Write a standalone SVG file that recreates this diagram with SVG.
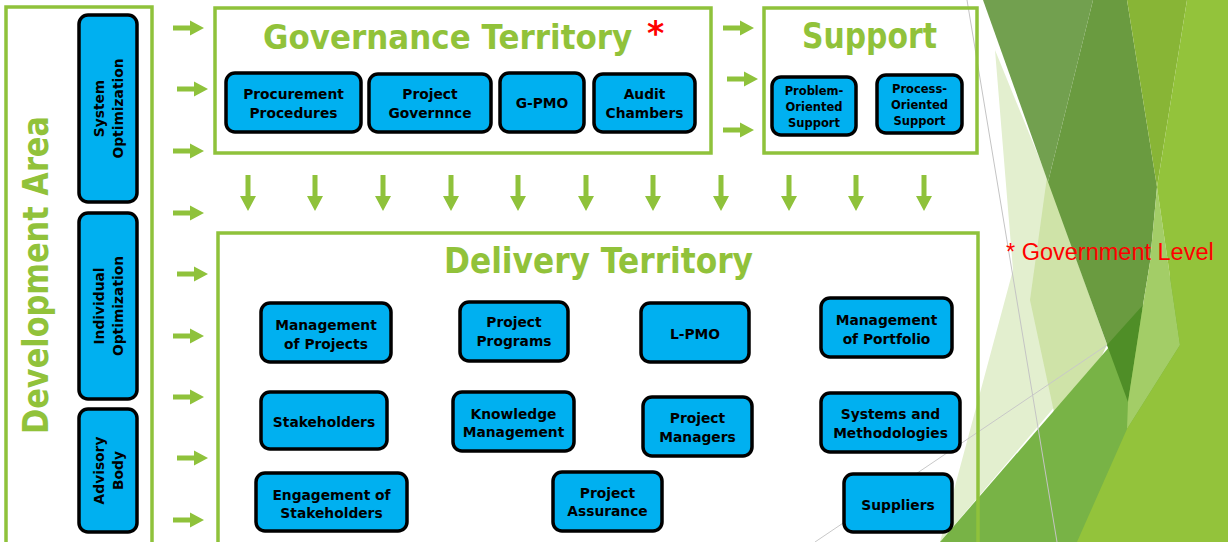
<svg xmlns="http://www.w3.org/2000/svg" width="1228" height="542" viewBox="0 0 1228 542">
<style>
.frame{fill:none;stroke:#8fc23b;stroke-width:3.5}
.title{font-family:"DejaVu Sans",Verdana,sans-serif;font-weight:bold;font-size:35px;fill:#91c23a}
.box{fill:#00b0f0;stroke:#000;stroke-width:3.5}
.lbl{font-family:"DejaVu Sans",Verdana,sans-serif;font-weight:bold;font-size:13.8px;fill:#000;text-anchor:middle}
.sm{font-size:11.5px}
.arw{fill:#8fc23b}
</style>
<defs>
<path id="ar" d="M0,-2.5 H17 V-7.5 L31,0 L17,7.5 V2.5 H0 Z"/>
<path id="ad" d="M-2.5,0 V21 H-8 L0,36 L8,21 H2.5 V0 Z"/>
</defs>
<rect width="1228" height="542" fill="#fff"/>
<g id="background">
<polygon points="995,50 1047,177 1107,345 940,542 1013,270" fill="#e3efcf"/>
<polygon points="1047,177 1107,345 1060,440 1030,300" fill="#cfe3a8"/>
<polygon points="983,0 1093,0 1048,182" fill="#72a04f"/>
<polygon points="1093,0 1127,0 1157,187 1150,262 1143,305 1128,402 1048,182" fill="#6a9b40"/>
<polygon points="1127,0 1187,0 1157,187" fill="#88b536"/>
<polygon points="940,542 1228,210 1228,542" fill="#78b346"/>
<polygon points="1107,345 1143,305 1128,402" fill="#4f8e27"/>
<polygon points="1157,187 1180,345 1127,429 1128,402 1143,305 1150,262" fill="#a3cd67"/>
<polygon points="1187,0 1228,0 1228,542 1077,542 1127,429 1180,345 1157,187" fill="#93c33b"/>
<line x1="967" y1="0" x2="1057" y2="542" stroke="#c4c4c4" stroke-width="1"/>
<line x1="815" y1="542" x2="1107" y2="345" stroke="#c8c8c8" stroke-width="1"/>
<text x="1006" y="260" font-family="Liberation Sans,Arial,sans-serif" font-size="23.5" fill="#ff0000">* Government Level</text>
</g>
<g id="development-area">
<rect class="frame" x="6" y="7" width="146" height="545"/>
<text class="title" transform="translate(48,275) rotate(-90)" text-anchor="middle" textLength="318" lengthAdjust="spacingAndGlyphs">Development Area</text>
</g>
<g id="system-optimization">
<rect class="box" x="79" y="15" width="58" height="187" rx="9"/>
<text class="lbl" transform="translate(108,108.5) rotate(-90)"><tspan x="0" y="-4">System</tspan><tspan x="0" y="14.5">Optimization</tspan></text>
</g>
<g id="individual-optimization">
<rect class="box" x="79" y="213" width="58" height="186" rx="9"/>
<text class="lbl" transform="translate(108,306) rotate(-90)"><tspan x="0" y="-4">Individual</tspan><tspan x="0" y="14.5">Optimization</tspan></text>
</g>
<g id="advisory-body">
<rect class="box" x="79" y="409" width="58" height="123" rx="9"/>
<text class="lbl" transform="translate(108,470.5) rotate(-90)"><tspan x="0" y="-4">Advisory</tspan><tspan x="0" y="14.5">Body</tspan></text>
</g>
<g id="governance-territory">
<rect class="frame" x="215" y="8" width="496" height="145"/>
<text class="title" transform="translate(263,49) scale(1,1.1)" style="font-size:31px">Governance Territory</text>
<text x="647" y="45" font-family="DejaVu Sans,sans-serif" font-weight="bold" font-size="33" fill="#ff0000">*</text>
</g>
<g id="procurement-procedures">
<rect class="box" x="226" y="73" width="135" height="59" rx="9"/>
<text class="lbl"><tspan x="293.5" y="99">Procurement</tspan><tspan x="293.5" y="118">Procedures</tspan></text>
</g>
<g id="project-governnce">
<rect class="box" x="369" y="74" width="122" height="58" rx="9"/>
<text class="lbl"><tspan x="430" y="99">Project</tspan><tspan x="430" y="118">Governnce</tspan></text>
</g>
<g id="g-pmo">
<rect class="box" x="500" y="73" width="84" height="59" rx="9"/>
<text class="lbl" x="542" y="108">G-PMO</text>
</g>
<g id="audit-chambers">
<rect class="box" x="594" y="74" width="101" height="58" rx="9"/>
<text class="lbl"><tspan x="644.5" y="98.5">Audit</tspan><tspan x="644.5" y="118">Chambers</tspan></text>
</g>
<g id="support">
<rect class="frame" x="764" y="8" width="213" height="145"/>
<text class="title" x="802" y="48" textLength="135" lengthAdjust="spacingAndGlyphs">Support</text>
</g>
<g id="problem-oriented-support">
<rect class="box" x="772" y="77" width="84" height="58" rx="9"/>
<text class="lbl sm"><tspan x="814" y="95">Problem-</tspan><tspan x="814" y="111">Oriented</tspan><tspan x="814" y="127">Support</tspan></text>
</g>
<g id="process-oriented-support">
<rect class="box" x="877" y="75" width="85" height="58" rx="9"/>
<text class="lbl sm"><tspan x="919.5" y="93">Process-</tspan><tspan x="919.5" y="109">Oriented</tspan><tspan x="919.5" y="125">Support</tspan></text>
</g>
<g id="delivery-territory">
<rect class="frame" x="218" y="233" width="760" height="320"/>
<text class="title" x="444" y="273" textLength="309" lengthAdjust="spacingAndGlyphs">Delivery Territory</text>
</g>
<g id="management-of-projects">
<rect class="box" x="261" y="303" width="130" height="59" rx="9"/>
<text class="lbl"><tspan x="326" y="330">Management</tspan><tspan x="326" y="348.5">of Projects</tspan></text>
</g>
<g id="stakeholders">
<rect class="box" x="261" y="392" width="126" height="57" rx="9"/>
<text class="lbl" x="324" y="426.5">Stakeholders</text>
</g>
<g id="engagement-of-stakeholders">
<rect class="box" x="256" y="473" width="151" height="58" rx="9"/>
<text class="lbl"><tspan x="331.5" y="499.5">Engagement of</tspan><tspan x="331.5" y="517.5">Stakeholders</tspan></text>
</g>
<g id="project-programs">
<rect class="box" x="460" y="302" width="108" height="59" rx="9"/>
<text class="lbl"><tspan x="514" y="327">Project</tspan><tspan x="514" y="345.5">Programs</tspan></text>
</g>
<g id="l-pmo">
<rect class="box" x="641" y="303" width="108" height="59" rx="9"/>
<text class="lbl" x="695" y="338.5">L-PMO</text>
</g>
<g id="knowledge-management">
<rect class="box" x="453" y="392" width="121" height="59" rx="9"/>
<text class="lbl"><tspan x="513.5" y="418.5">Knowledge</tspan><tspan x="513.5" y="437">Management</tspan></text>
</g>
<g id="project-managers">
<rect class="box" x="643" y="397" width="109" height="59" rx="9"/>
<text class="lbl"><tspan x="697.5" y="423">Project</tspan><tspan x="697.5" y="442">Managers</tspan></text>
</g>
<g id="project-assurance">
<rect class="box" x="553" y="472" width="109" height="59" rx="9"/>
<text class="lbl"><tspan x="607.5" y="497.5">Project</tspan><tspan x="607.5" y="516">Assurance</tspan></text>
</g>
<g id="management-of-portfolio">
<rect class="box" x="821" y="298" width="131" height="59" rx="9"/>
<text class="lbl"><tspan x="886.5" y="324.5">Management</tspan><tspan x="886.5" y="344">of Portfolio</tspan></text>
</g>
<g id="systems-and-methodologies">
<rect class="box" x="821" y="393" width="139" height="59" rx="9"/>
<text class="lbl"><tspan x="890.5" y="419">Systems and</tspan><tspan x="890.5" y="438">Methodologies</tspan></text>
</g>
<g id="suppliers">
<rect class="box" x="844" y="474" width="108" height="58" rx="9"/>
<text class="lbl" x="898" y="510">Suppliers</text>
</g>
<g id="connectors" class="arw">
<use href="#ar" x="173" y="28"/>
<use href="#ar" x="177" y="89"/>
<use href="#ar" x="173" y="151"/>
<use href="#ar" x="173" y="213"/>
<use href="#ar" x="177" y="274"/>
<use href="#ar" x="173" y="336"/>
<use href="#ar" x="173" y="397"/>
<use href="#ar" x="177" y="458"/>
<use href="#ar" x="173" y="520"/>
<use href="#ar" x="723" y="28"/>
<use href="#ar" x="727" y="79"/>
<use href="#ar" x="723" y="130"/>
<use href="#ad" x="248" y="175"/>
<use href="#ad" x="315" y="175"/>
<use href="#ad" x="383" y="175"/>
<use href="#ad" x="451" y="175"/>
<use href="#ad" x="518" y="175"/>
<use href="#ad" x="586" y="175"/>
<use href="#ad" x="653" y="175"/>
<use href="#ad" x="721" y="175"/>
<use href="#ad" x="789" y="175"/>
<use href="#ad" x="856" y="175"/>
<use href="#ad" x="924" y="175"/>
</g>
</svg>
